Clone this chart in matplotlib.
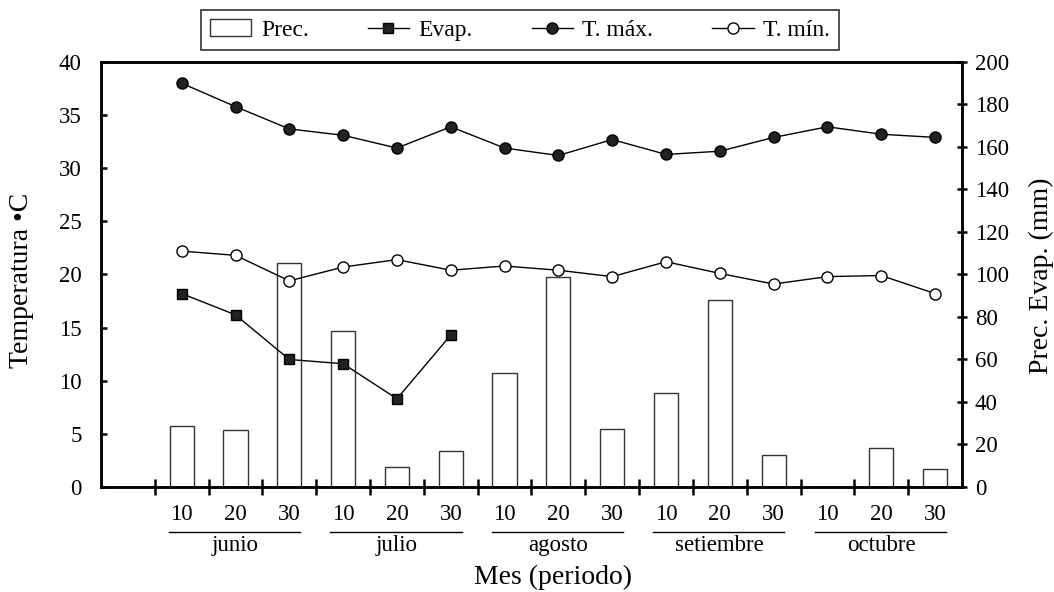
import numpy as np
import matplotlib.pyplot as plt
import matplotlib.transforms as mtransforms

plt.rcParams['font.family'] = ['Liberation Serif', 'DejaVu Serif']
plt.rcParams['font.size'] = 16.5

# data, one value per 10-day period (junio .. octubre)
months = ['junio', 'julio', 'agosto', 'setiembre', 'octubre']
periods = ['10', '20', '30']
t_max = [38.0, 35.8, 33.7, 33.1, 31.9, 33.9, 31.9, 31.2, 32.7, 31.3, 31.6, 32.9, 33.9, 33.2, 32.9]
t_min = [22.2, 21.8, 19.4, 20.7, 21.4, 20.4, 20.8, 20.4, 19.8, 21.2, 20.1, 19.1, 19.8, 19.9, 18.2]
evap = [91.0, 81.0, 60.0, 58.0, 41.5, 71.5]
prec = [28.5, 27.0, 105.5, 73.5, 9.5, 17.0, 53.5, 99.0, 27.5, 44.0, 88.0, 15.0, 0.0, 18.5, 8.5]

x = np.arange(len(prec))

fig = plt.figure(figsize=(10.54, 5.92), dpi=100)
ax = fig.add_axes([0.0958, 0.1774, 0.8169, 0.7179])
ax2 = ax.twinx()
ax.set_zorder(ax2.get_zorder() + 1)
ax.patch.set_visible(False)

# bars and evaporation on the right axis
bars = ax2.bar(x, prec, width=0.45, facecolor='white', edgecolor='#333333', linewidth=1.0, zorder=1)
ev, = ax2.plot(x[:len(evap)], evap, color='black', linewidth=1.0, marker='s', markersize=7.5,
               markerfacecolor='#222222', markeredgecolor='black', zorder=3)

# temperatures on the left axis
tx, = ax.plot(x, t_max, color='black', linewidth=1.0, marker='o', markersize=8,
              markerfacecolor='#222222', markeredgecolor='black')
tn, = ax.plot(x, t_min, color='black', linewidth=1.0, marker='o', markersize=8,
              markerfacecolor='white', markeredgecolor='black')

ax.set_xlim(-1.5, 14.5)
ax.set_ylim(0, 40)
ax2.set_ylim(0, 200)
ax.set_yticks(np.arange(0, 41, 5))
ax2.set_yticks(np.arange(0, 201, 20))
ax.set_xticks(np.arange(-0.5, 14, 1))
ax.set_xticklabels([])

for a in (ax, ax2):
    for s in a.spines.values():
        s.set_linewidth(1.8)

ax.tick_params(axis='y', direction='in', length=4.5, width=1.8, labelsize=16.5, pad=14)
ax.tick_params(axis='x', direction='inout', length=11, width=1.8)
ax2.tick_params(axis='y', direction='inout', length=7.5, width=1.8, labelsize=16.5, pad=5.5)

fig.text(22 / 1054, 1 - 280 / 592, 'Temperatura •C', rotation=90, ha='center', va='center', fontsize=20)
fig.text(1041 / 1054, 1 - 276 / 592, 'Prec. Evap. (mm)', rotation=90, ha='center', va='center', fontsize=20)

# period and month labels below the axis
trans = mtransforms.blended_transform_factory(ax.transData, ax.transAxes)
for m, month in enumerate(months):
    for p, per in enumerate(periods):
        ax.text(m * 3 + p, -0.064, per, transform=trans, ha='center', va='center', fontsize=16.5)
    ax.plot([m * 3 - 0.24, m * 3 + 2.2], [-0.106, -0.106], transform=trans,
            color='black', linewidth=1.0, clip_on=False)
    ax.text(m * 3 + 1, -0.138, month, transform=trans, ha='center', va='center', fontsize=16.5)

fig.text(553 / 1054, 1 - 577 / 592, 'Mes (periodo)', ha='center', va='center', fontsize=20)

leg = fig.legend([bars, ev, tx, tn], ['Prec.', 'Evap.', 'T. máx.', 'T. mín.'],
                 loc='upper center', bbox_to_anchor=(0.4934, 1 - 10 / 592), ncol=4, frameon=True,
                 fancybox=False, edgecolor='black', fontsize=17, handlelength=1.75,
                 columnspacing=2.5, borderpad=0.4, handletextpad=0.4, borderaxespad=0)
leg.get_frame().set_linewidth(1.2)

fig.savefig('out.png', dpi=100)
